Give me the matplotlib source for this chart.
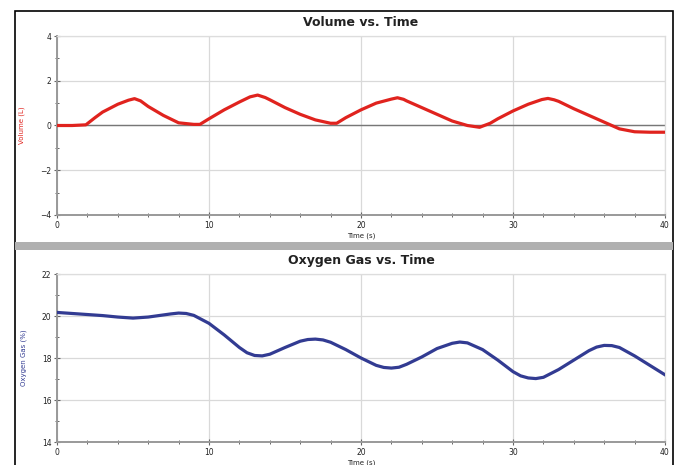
import matplotlib.pyplot as plt
from matplotlib.patches import Rectangle
from matplotlib.ticker import MultipleLocator

# Volume vs. Time (L)
vol_t = [0, 1, 1.9, 2.5, 3, 4, 4.7, 5.1, 5.5, 6, 7, 8, 9, 9.4, 10, 11, 12, 12.7, 13.2,
         13.7, 14, 15, 16, 17, 18, 18.4, 19, 20, 21, 22, 22.4, 22.8, 23, 24, 25, 26,
         27, 27.8, 28.5, 29, 30, 31, 31.9, 32.3, 32.7, 33, 34, 35, 36, 37, 38, 39, 40]
vol_v = [0, 0, 0.03, 0.35, 0.6, 0.95, 1.13, 1.2, 1.1, 0.85, 0.45, 0.12, 0.05, 0.05,
         0.3, 0.7, 1.05, 1.28, 1.36, 1.25, 1.15, 0.8, 0.5, 0.25, 0.1, 0.1, 0.35, 0.7,
         1.0, 1.18, 1.24, 1.17, 1.1, 0.8, 0.5, 0.2, 0.0, -0.08, 0.1, 0.3, 0.65, 0.95,
         1.16, 1.21, 1.15, 1.08, 0.75, 0.45, 0.15, -0.15, -0.28, -0.3, -0.3]

# Oxygen Gas vs. Time (%)
oxy_t = [0, 1, 2, 3, 4, 5, 6, 7, 7.5, 8, 8.5, 9, 10, 11, 12, 12.5, 13, 13.5, 14, 15,
         16, 16.5, 17, 17.5, 18, 19, 20, 21, 21.5, 22, 22.5, 23, 24, 25, 26, 26.5,
         27, 28, 29, 30, 30.5, 31, 31.5, 32, 33, 34, 35, 35.5, 36, 36.5, 37, 38, 39,
         40]
oxy_v = [20.17, 20.12, 20.07, 20.02, 19.95, 19.9, 19.95, 20.05, 20.1, 20.14, 20.12,
         20.03, 19.65, 19.1, 18.5, 18.25, 18.12, 18.1, 18.18, 18.5, 18.8, 18.88, 18.9,
         18.86, 18.75, 18.4, 18.0, 17.65, 17.55, 17.52, 17.56, 17.7, 18.05, 18.45,
         18.7, 18.76, 18.72, 18.4, 17.9, 17.35, 17.15, 17.05, 17.02, 17.08, 17.45,
         17.9, 18.35, 18.52, 18.6, 18.59, 18.5, 18.1, 17.65, 17.2]

W, H = 680, 465
fig = plt.figure(figsize=(W / 100, H / 100), dpi=100)

# outer frame and separator band
fig.patches.append(Rectangle((15 / W, -0.02), 658 / W, 1 - 11 / H + 0.02,
                             transform=fig.transFigure, fill=False,
                             edgecolor='black', lw=1.2))
fig.patches.append(Rectangle((15 / W, 1 - 250 / H), 658 / W, 8 / H,
                             transform=fig.transFigure, facecolor='#b0b0b0',
                             edgecolor='none'))


def setup(ax, ylim, ystep, title, ylabel, color):
    ax.set_xlim(0, 40)
    ax.set_ylim(*ylim)
    ax.xaxis.set_major_locator(MultipleLocator(10))
    ax.xaxis.set_minor_locator(MultipleLocator(2))
    ax.yaxis.set_major_locator(MultipleLocator(ystep))
    ax.yaxis.set_minor_locator(MultipleLocator(ystep / 2))
    ax.grid(True, which='major', color='#d9d9d9', lw=0.9)
    ax.set_axisbelow(True)
    for s in ['left', 'bottom']:
        ax.spines[s].set_color('#999999')
        ax.spines[s].set_linewidth(1.4)
    for s in ['top', 'right']:
        ax.spines[s].set_color('#dddddd')
        ax.spines[s].set_linewidth(0.9)
    ax.tick_params(which='major', direction='inout', length=4, width=0.8,
                   color='#666666', labelsize=5.5, pad=2, labelcolor='#222222')
    ax.tick_params(which='minor', direction='inout', length=3, width=0.7,
                   color='#666666')
    ax.set_title(title, fontsize=9, fontweight='bold', color='#222222', pad=7)
    ax.set_xlabel('Time (s)', fontsize=5, labelpad=2, color='#222222')
    ax.set_ylabel(ylabel, fontsize=5, color=color, labelpad=11)


ax1 = fig.add_axes([57 / W, 1 - 215 / H, 608 / W, 179 / H])
ax1.axhline(0, color='#777777', lw=1.0, zorder=1)
ax1.plot(vol_t, vol_v, color='#e0231e', lw=2.3, zorder=3)
setup(ax1, (-4, 4), 2, 'Volume vs. Time', 'Volume (L)', '#e0231e')

ax2 = fig.add_axes([57 / W, 1 - 442 / H, 608 / W, 168 / H])
ax2.plot(oxy_t, oxy_v, color='#323b92', lw=2.3, zorder=3)
setup(ax2, (14, 22), 2, 'Oxygen Gas vs. Time', 'Oxygen Gas (%)', '#323b92')

fig.savefig('out.png', dpi=100)
